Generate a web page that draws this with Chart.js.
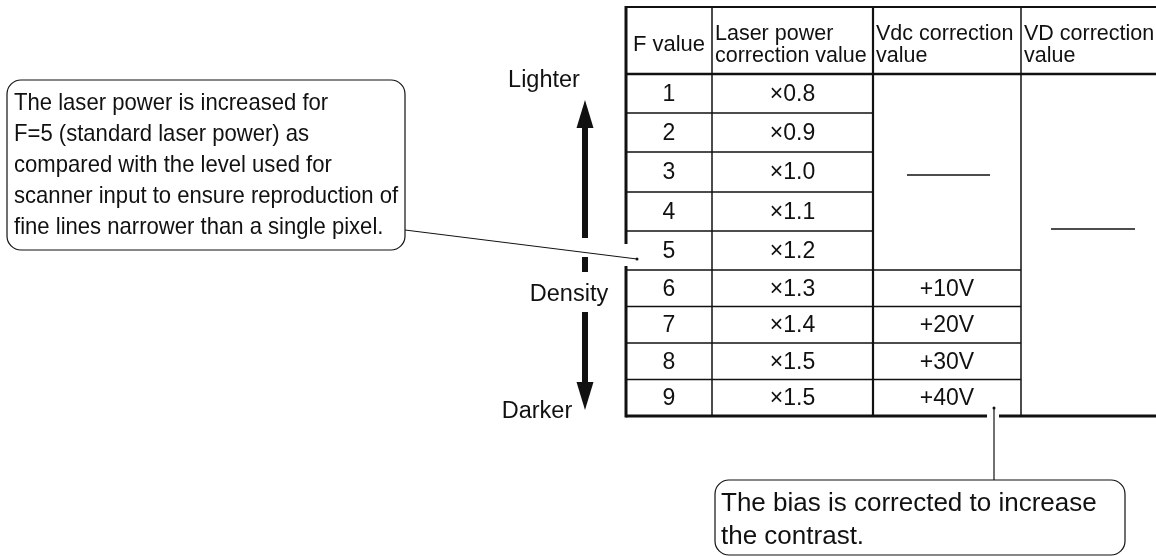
<!DOCTYPE html>
<html>
<head>
<meta charset="utf-8">
<script src="https://cdn.jsdelivr.net/npm/chart.js@4.4.1/dist/chart.umd.min.js"></script>
<style>
  html, body { margin: 0; padding: 0; background: #fff; }
  #chart { display: block; }
</style>
</head>
<body>
<canvas id="chart" width="1156" height="556"></canvas>
<script>
// Table content
const fValues = ["1", "2", "3", "4", "5", "6", "7", "8", "9"];
const laserPower = ["×0.8", "×0.9", "×1.0", "×1.1", "×1.2", "×1.3", "×1.4", "×1.5", "×1.5"];
const vdcCorrection = [null, null, null, null, null, "+10V", "+20V", "+30V", "+40V"];
const vdCorrection = [null, null, null, null, null, null, null, null, null];
const headers = [["F value"], ["Laser power", "correction value"], ["Vdc correction", "value"], ["VD correction", "value"]];

// Notes and density labels
const leftNote = [
    "The laser power is increased for",
    "F=5 (standard laser power) as",
    "compared with the level used for",
    "scanner input to ensure reproduction of",
    "fine lines narrower than a single pixel."
];
const bottomNote = ["The bias is corrected to increase", "the contrast."];
const densityLabels = ["Lighter", "Density", "Darker"];

// Layout (in scale units = pixels of the 1156x556 frame)
const colEdges = [626, 712, 873, 1021, 1170];
const rowEdges = [7, 74, 113, 152, 192, 231, 270, 306.5, 343, 379.5, 416];
const FONT = "'Liberation Sans', Arial, sans-serif";

const canvas = document.getElementById("chart");

// Draws the whole diagram through the chart's x / y scales
const tablePlugin = {
    id: "tableDiagram",
    afterDraw(chart) {
        const ctx = chart.ctx;
        const sx = chart.scales.x, sy = chart.scales.y;
        const X = v => sx.getPixelForValue(v);
        const Y = v => sy.getPixelForValue(v);

        function line(x1, y1, x2, y2, w) {
            ctx.beginPath();
            ctx.lineWidth = w;
            ctx.moveTo(X(x1), Y(y1));
            ctx.lineTo(X(x2), Y(y2));
            ctx.stroke();
        }
        // text with optional horizontal squeeze (the source font is a bit narrow)
        function text(str, x, y, size, align, squeeze) {
            ctx.save();
            ctx.font = size + "px " + FONT;
            ctx.textAlign = align || "left";
            ctx.textBaseline = "middle";
            ctx.translate(X(x), Y(y));
            ctx.scale(squeeze || 1, 1);
            ctx.fillText(str, 0, 0);
            ctx.restore();
        }
        function roundBox(x1, y1, x2, y2, r) {
            ctx.beginPath();
            ctx.lineWidth = 1.2;
            ctx.roundRect(X(x1), Y(y1), X(x2) - X(x1), Y(y2) - Y(y1), r);
            ctx.stroke();
        }

        ctx.save();
        ctx.strokeStyle = "#111";
        ctx.fillStyle = "#111";
        ctx.lineCap = "butt";

        const left = colEdges[0], right = 1156;
        const top = rowEdges[0], headBottom = rowEdges[1], bottom = rowEdges[rowEdges.length - 1];

        // outer frame
        line(left, top, right, top, 2);
        line(left, headBottom, right, headBottom, 2.5);
        line(left, bottom, 987, bottom, 3);
        line(999, bottom, right, bottom, 3);
        line(left, top - 1, left, 244, 3);
        line(left, 266, left, bottom + 1.5, 3);

        // column separators
        line(colEdges[1], top, colEdges[1], bottom, 1.5);
        line(colEdges[2], top, colEdges[2], bottom, 2.2);
        line(colEdges[3], top, colEdges[3], bottom, 1.5);

        // row separators
        for (let i = 2; i < rowEdges.length - 1; i++) {
            const r = i - 1; // data row index above this line (1-based)
            const end = r >= 5 ? colEdges[3] : colEdges[2];
            line(left, rowEdges[i], end, rowEdges[i], 1.5);
        }

        // header texts
        text(headers[0][0], (colEdges[0] + colEdges[1]) / 2, 45, 22, "center");
        for (let c = 1; c < headers.length; c++) {
            text(headers[c][0], colEdges[c] + 3, 34, 21.5, "left");
            text(headers[c][1], colEdges[c] + 3, 56, 21.5, "left");
        }

        // data cells
        fValues.forEach((f, i) => {
            const yc = (rowEdges[i + 1] + rowEdges[i + 2]) / 2 + 1;
            text(f, (colEdges[0] + colEdges[1]) / 2, yc, 23, "center");
            text(laserPower[i], (colEdges[1] + colEdges[2]) / 2, yc, 23, "center");
            if (vdcCorrection[i]) text(vdcCorrection[i], (colEdges[2] + colEdges[3]) / 2, yc, 23, "center");
            if (vdCorrection[i]) text(vdCorrection[i], (colEdges[3] + colEdges[4]) / 2, yc, 23, "center");
        });

        // merged cells with a dash
        line(907, 175, 990, 175, 1.5);
        line(1051, 229, 1135, 229, 1.5);

        // density arrow
        const ax = 585;
        ctx.beginPath();
        ctx.moveTo(X(ax), Y(100));
        ctx.lineTo(X(ax + 8.5), Y(128));
        ctx.lineTo(X(ax - 8.5), Y(128));
        ctx.closePath();
        ctx.fill();
        line(ax, 126, ax, 238, 6);
        line(ax, 257, ax, 272, 6);
        line(ax, 312, ax, 384, 6);
        ctx.beginPath();
        ctx.moveTo(X(ax), Y(410));
        ctx.lineTo(X(ax + 8.5), Y(382));
        ctx.lineTo(X(ax - 8.5), Y(382));
        ctx.closePath();
        ctx.fill();
        text(densityLabels[0], 544, 81, 23.5, "center");
        text(densityLabels[1], 569, 295, 23.5, "center");
        text(densityLabels[2], 537, 412, 23.5, "center");

        // left note box and leader
        roundBox(7, 80, 405, 250, 14);
        leftNote.forEach((s, i) => text(s, 14, 103 + i * 31.2, 24, "left", 0.92));
        line(405, 230, 637, 259, 1);
        ctx.beginPath();
        ctx.arc(X(637), Y(259), 1.5, 0, Math.PI * 2);
        ctx.fill();

        // bottom note box and leader
        roundBox(715, 480, 1125, 555, 14);
        bottomNote.forEach((s, i) => text(s, 721, 504 + i * 33, 26, "left"));
        line(994, 408, 994, 480, 1.2);
        ctx.beginPath();
        ctx.arc(X(994), Y(408), 1.5, 0, Math.PI * 2);
        ctx.fill();

        ctx.restore();
    }
};

new Chart(canvas, {
    type: "scatter",
    data: { datasets: [{ data: [], pointRadius: 0 }] },
    options: {
        responsive: false,
        animation: false,
        events: [],
        layout: { padding: 0 },
        plugins: { legend: { display: false }, tooltip: { enabled: false } },
        scales: {
            x: { type: "linear", min: 0, max: 1156, display: false },
            y: { type: "linear", min: 0, max: 556, reverse: true, display: false }
        }
    },
    plugins: [tablePlugin]
});
</script>
</body>
</html>
